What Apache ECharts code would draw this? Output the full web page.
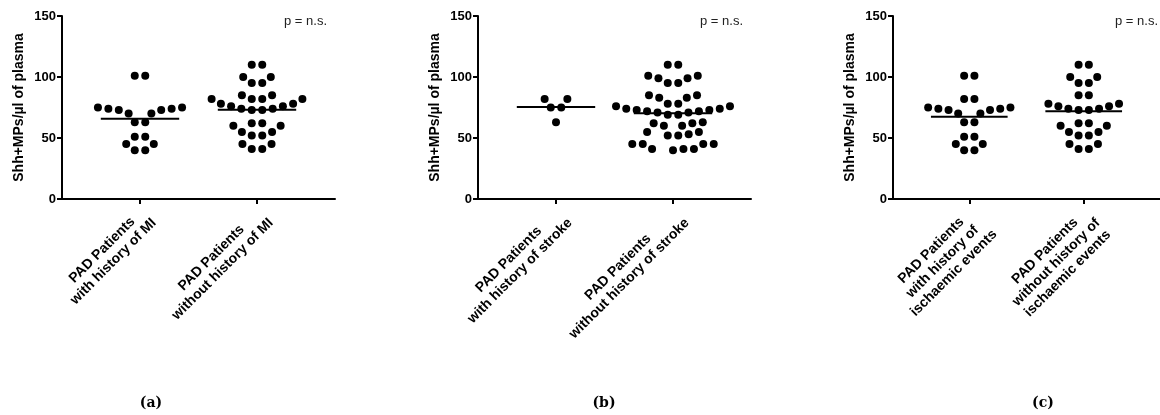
<!DOCTYPE html>
<html><head><meta charset="utf-8">
<script src="https://cdn.jsdelivr.net/npm/echarts@6/dist/echarts.min.js"></script>
<style>html,body{margin:0;padding:0;background:#fff}#c{width:1160px;height:415px}</style>
</head><body><div id="c"></div>
<script>
// ---------- data ----------
const yTickValues = [0, 50, 100, 150];
const pLabel = 'p = n.s.';
const captions = ['(a)', '(b)', '(c)'];
const yAxisName = 'Shh+MPs/µl of plasma';

const catsA = [['PAD Patients', 'with history of MI'], ['PAD Patients', 'without history of MI']];
const catsB = [['PAD Patients', 'with history of stroke'], ['PAD Patients', 'without history of stroke']];
const catsC = [['PAD Patients', 'with history of', 'ischaemic events'], ['PAD Patients', 'without history of', 'ischaemic events']];

const miWith = [101, 101, 75, 75, 74, 74, 73, 73, 70, 70, 63, 63, 51, 51, 45, 45, 40, 40];
const miWithout = [110, 110, 100, 100, 95, 95, 85, 85, 82, 82, 82, 82, 78, 78, 76, 76, 74, 74, 73, 73,
  62, 62, 60, 60, 55, 55, 52, 52, 45, 45, 41, 41];
const strokeWith = [82, 82, 75, 75, 63];
const strokeWithout = [110, 110, 101, 101, 99, 99, 95, 95, 85, 85, 83, 83,
  78, 78, 76, 76, 74, 74, 73, 73, 72, 72, 71, 71, 69, 69,
  63, 62, 62, 60, 60, 55, 55, 53, 52, 52, 45, 45, 45, 45, 41, 41, 41, 40];
const ischWith = [101, 101, 82, 82, 75, 75, 74, 74, 73, 73, 70, 70, 63, 63, 51, 51, 45, 45, 40, 40];
const ischWithout = [110, 110, 100, 100, 95, 95, 85, 85, 78, 78, 76, 76, 74, 74, 73, 73,
  62, 62, 60, 60, 55, 55, 52, 52, 45, 45, 41, 41];

const panels = [
  { cats: catsA, groups: [miWith, miWithout] },
  { cats: catsB, groups: [strokeWith, strokeWithout] },
  { cats: catsC, groups: [ischWith, ischWithout] }
];

// ---------- layout ----------
const gridLefts = [62, 478, 893];
const gridTop = 16, gridW = 273, gridH = 183;
const xMin = 1 / 3, xMax = 8 / 3;
const pxPerX = gridW / (xMax - xMin);
const pxPerY = gridH / 150;
const D = 10.5; // dot spacing in px
const halfLine = 0.335;

// symmetric beeswarm offsets (in px) computed from values
function swarm(values) {
  const sorted = values.slice().sort((a, b) => a - b);
  const placed = [];
  const collides = (x, y) => placed.some(p => {
    const dx = p.x - x, dy = p.y - y;
    return dx * dx + dy * dy < D * D - 1e-6;
  });
  function find(y, sym) {
    const c = sym ? [D / 2] : [0];
    placed.forEach(p => {
      const dy = Math.abs(p.y - y);
      if (dy < D) {
        const h = Math.sqrt(D * D - dy * dy);
        [p.x + h, p.x - h, -p.x + h, -p.x - h].forEach(s => c.push(sym ? Math.abs(s) : s));
      }
    });
    c.sort((a, b) => Math.abs(a) - Math.abs(b));
    for (const x of c) {
      if (sym) {
        if (x < D / 2 - 1e-6) continue;
        if (!collides(x, y) && !collides(-x, y)) return x;
      } else if (!collides(x, y)) return x;
    }
    return 0;
  }
  const out = [];
  let i = 0;
  while (i < sorted.length) {
    let j = i;
    while (j < sorted.length && sorted[j] === sorted[i]) j++;
    const n = j - i, v = sorted[i], y = v * pxPerY;
    let k = 0;
    if (n % 2 === 1) { const x = find(y, false); placed.push({ x, y }); out.push([x, v]); k = 1; }
    while (k < n) {
      const x = find(y, true);
      placed.push({ x, y }); placed.push({ x: -x, y });
      out.push([x, v]); out.push([-x, v]);
      k += 2;
    }
    i = j;
  }
  return out;
}

const font = 'Liberation Sans, Arial, Helvetica, sans-serif';
const grid = [], xAxis = [], yAxis = [], series = [], title = [];

panels.forEach((pn, pi) => {
  grid.push({ left: gridLefts[pi], top: gridTop, width: gridW, height: gridH });
  xAxis.push({
    type: 'value', gridIndex: pi, min: xMin, max: xMax,
    axisLine: { show: true, lineStyle: { color: '#000', width: 2 } },
    axisTick: { show: true, customValues: [1, 2], length: 5, lineStyle: { color: '#000', width: 2 } },
    splitLine: { show: false },
    axisLabel: {
      customValues: [1, 2], rotate: 45, margin: 2, align: 'right', verticalAlign: 'top',
      padding: [0, 4, 0, 0],
      fontFamily: font, fontWeight: 'bold', fontSize: 14, color: '#000', lineHeight: 16,
      formatter: v => pn.cats[Math.round(v) - 1].map(s => '{c|' + s + '}').join('\n'),
      rich: { c: { align: 'center', fontFamily: font, fontWeight: 'bold', fontSize: 14, color: '#000', lineHeight: 16 } }
    }
  });
  yAxis.push({
    type: 'value', gridIndex: pi, min: yTickValues[0], max: yTickValues[yTickValues.length - 1],
    interval: yTickValues[1] - yTickValues[0],
    name: yAxisName, nameLocation: 'middle', nameGap: 36,
    nameTextStyle: { fontFamily: font, fontWeight: 'bold', fontSize: 14, color: '#000' },
    axisLine: { show: true, lineStyle: { color: '#000', width: 2 } },
    axisTick: { show: true, length: 5, lineStyle: { color: '#000', width: 2 } },
    splitLine: { show: false },
    axisLabel: { fontFamily: font, fontWeight: 'bold', fontSize: 13, color: '#000', margin: 6 }
  });
  pn.groups.forEach((vals, gi) => {
    const g = gi + 1;
    series.push({
      type: 'scatter', xAxisIndex: pi, yAxisIndex: pi, symbol: 'circle', symbolSize: 8,
      itemStyle: { color: '#000', opacity: 1 }, silent: true,
      data: swarm(vals).map(([ox, v]) => [g + ox / pxPerX, v])
    });
    const mean = vals.reduce((a, b) => a + b, 0) / vals.length;
    series.push({
      type: 'line', xAxisIndex: pi, yAxisIndex: pi, symbol: 'none', silent: true,
      lineStyle: { color: '#000', width: 2 },
      data: [[g - halfLine, mean], [g + halfLine, mean]]
    });
  });
  title.push({
    text: pLabel, left: gridLefts[pi] + 217, top: 10,
    textStyle: { fontFamily: font, fontWeight: 'normal', fontSize: 13, color: '#222' }
  });
});

const captionX = [146, 599, 1038];
captions.forEach((c, i) => title.push({
  text: c, left: captionX[i], top: 391, textAlign: 'center',
  textStyle: { fontFamily: 'DejaVu Serif, Liberation Serif, serif', fontWeight: 'bold', fontSize: 14, color: '#000' }
}));

const chart = echarts.init(document.getElementById('c'), null, { renderer: 'canvas' });
chart.setOption({ animation: false, backgroundColor: '#fff', title, grid, xAxis, yAxis, series });
</script></body></html>
